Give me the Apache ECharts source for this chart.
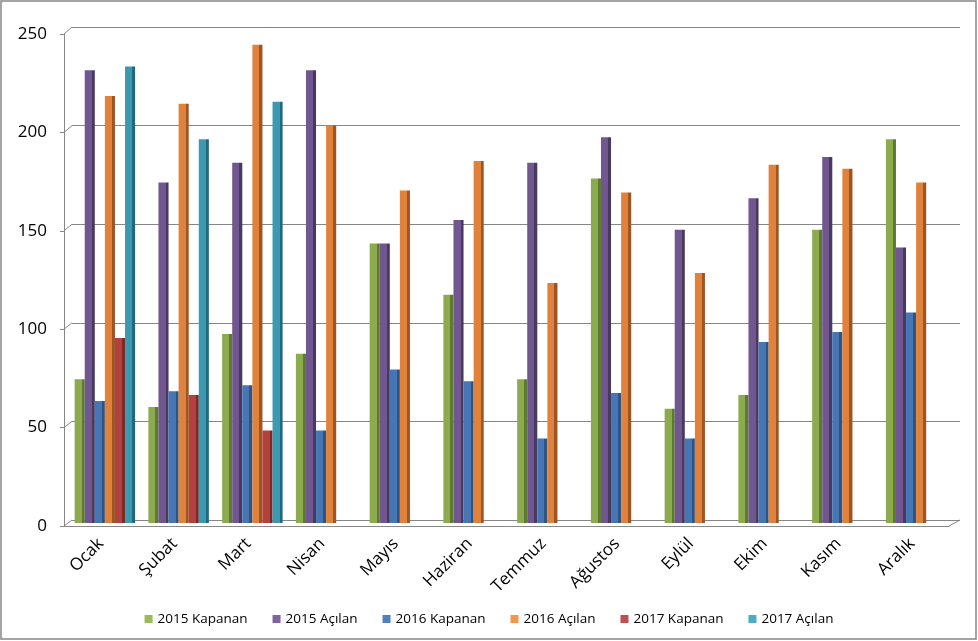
<!DOCTYPE html>
<html><head><meta charset="utf-8">
<script src="https://cdn.jsdelivr.net/npm/echarts@6/dist/echarts.min.js"></script>
<style>html,body{margin:0;padding:0;background:#fff}#c{width:978px;height:641px}</style>
</head><body><div id="c"></div>
<script>
const months = ['Ocak','Şubat','Mart','Nisan','Mayıs','Haziran','Temmuz','Ağustos','Eylül','Ekim','Kasım','Aralık'];
const yTicks = [0, 50, 100, 150, 200, 250];
const kapanan2015 = [73, 59, 96, 86, 142, 116, 73, 175, 58, 65, 149, 195];
const acilan2015  = [230, 173, 183, 230, 142, 154, 183, 196, 149, 165, 186, 140];
const kapanan2016 = [62, 67, 70, 47, 78, 72, 43, 66, 43, 92, 97, 107];
const acilan2016  = [217, 213, 243, 202, 169, 184, 122, 168, 127, 182, 180, 173];
const kapanan2017 = [94, 65, 47, null, null, null, null, null, null, null, null, null];
const acilan2017  = [232, 195, 214, null, null, null, null, null, null, null, null, null];

const seriesNames = ['2015 Kapanan','2015 Açılan','2016 Kapanan','2016 Açılan','2017 Kapanan','2017 Açılan'];
const seriesData = [kapanan2015, acilan2015, kapanan2016, acilan2016, kapanan2017, acilan2017];
const legendColors = ['#9BBB59','#8064A2','#4F81BD','#F79646','#C0504D','#4BACC6'];
const faceColors = ['#8CAB4F','#70578F','#4676B3','#E0823B','#B5413F','#3B9AB2'];
const sideColors = ['#5E7A30','#48395F','#2E5482','#9C5524','#7A2A29','#23697C'];

const FONT = 'Open Sans';
const chart = echarts.init(document.getElementById('c'));

function grad(i){
  return new echarts.graphic.LinearGradient(0,0,1,0,[
    {offset:0,color:faceColors[i]},{offset:0.7,color:faceColors[i]},
    {offset:0.7,color:sideColors[i]},{offset:1,color:sideColors[i]}]);
}

const option = {
  animation:false,
  backgroundColor:'#fff',
  grid:[
    {left:64,right:29,top:34,bottom:115},
    {left:72,right:18,top:27,bottom:121},
    {left:68,right:25,top:31,bottom:118}
  ],
  legend:{
    left:'center', top:607, itemWidth:8, itemHeight:8, itemGap:25, icon:'rect',
    textStyle:{fontFamily:FONT,fontSize:13.5,color:'#000'},
    data: seriesNames.map((n,i)=>({name:n,itemStyle:{color:legendColors[i]}}))
  },
  xAxis:[
    {type:'category',gridIndex:0,data:months,
     axisLine:{lineStyle:{color:'#868686',width:1}},
     axisTick:{length:7,lineStyle:{color:'#868686'}},
     axisLabel:{rotate:45,margin:15,fontFamily:FONT,fontSize:17,color:'#000',interval:0}},
    {type:'category',gridIndex:1,data:months,show:false},
    {type:'category',gridIndex:2,data:months,show:false}
  ],
  yAxis:[
    {type:'value',gridIndex:0,min:yTicks[0],max:yTicks[yTicks.length-1],interval:50,
     axisLine:{show:true,lineStyle:{color:'#868686'}},
     axisTick:{show:true,length:4,lineStyle:{color:'#868686'}},
     splitLine:{show:false},
     axisLabel:{fontFamily:FONT,fontSize:17,color:'#000',margin:17}},
    {type:'value',gridIndex:1,min:0,max:250,interval:50,
     axisLine:{show:false},axisTick:{show:false},axisLabel:{show:false},
     splitLine:{show:true,lineStyle:{color:'#868686',width:1}}},
    {type:'value',gridIndex:2,min:0,max:250,interval:50,show:false,splitLine:{show:false}}
  ],
  series: seriesNames.map((n,i)=>({
    name:n,type:'bar',xAxisIndex:2,yAxisIndex:2,data:seriesData[i],
    barGap:'0%',barCategoryGap:'18%',
    itemStyle:{color:grad(i)}
  }))
};
chart.setOption(option);

const g = [];
yTicks.forEach(v=>{
  const yf = chart.convertToPixel({yAxisIndex:0}, v);
  const yb = chart.convertToPixel({yAxisIndex:1}, v);
  g.push({type:'line',shape:{x1:64,y1:yf,x2:72,y2:yb},style:{stroke:'#868686',lineWidth:1},silent:true});
});
const y0f = chart.convertToPixel({yAxisIndex:0}, 0);
const y0b = chart.convertToPixel({yAxisIndex:1}, 0);
g.push({type:'line',shape:{x1:949,y1:y0f,x2:960,y2:y0b},style:{stroke:'#868686',lineWidth:1},silent:true});
g.push({type:'rect',shape:{x:1,y:1,width:975,height:638},style:{fill:'none',stroke:'#868686',lineWidth:1.5},silent:true});
chart.setOption({graphic:g});
</script></body></html>
